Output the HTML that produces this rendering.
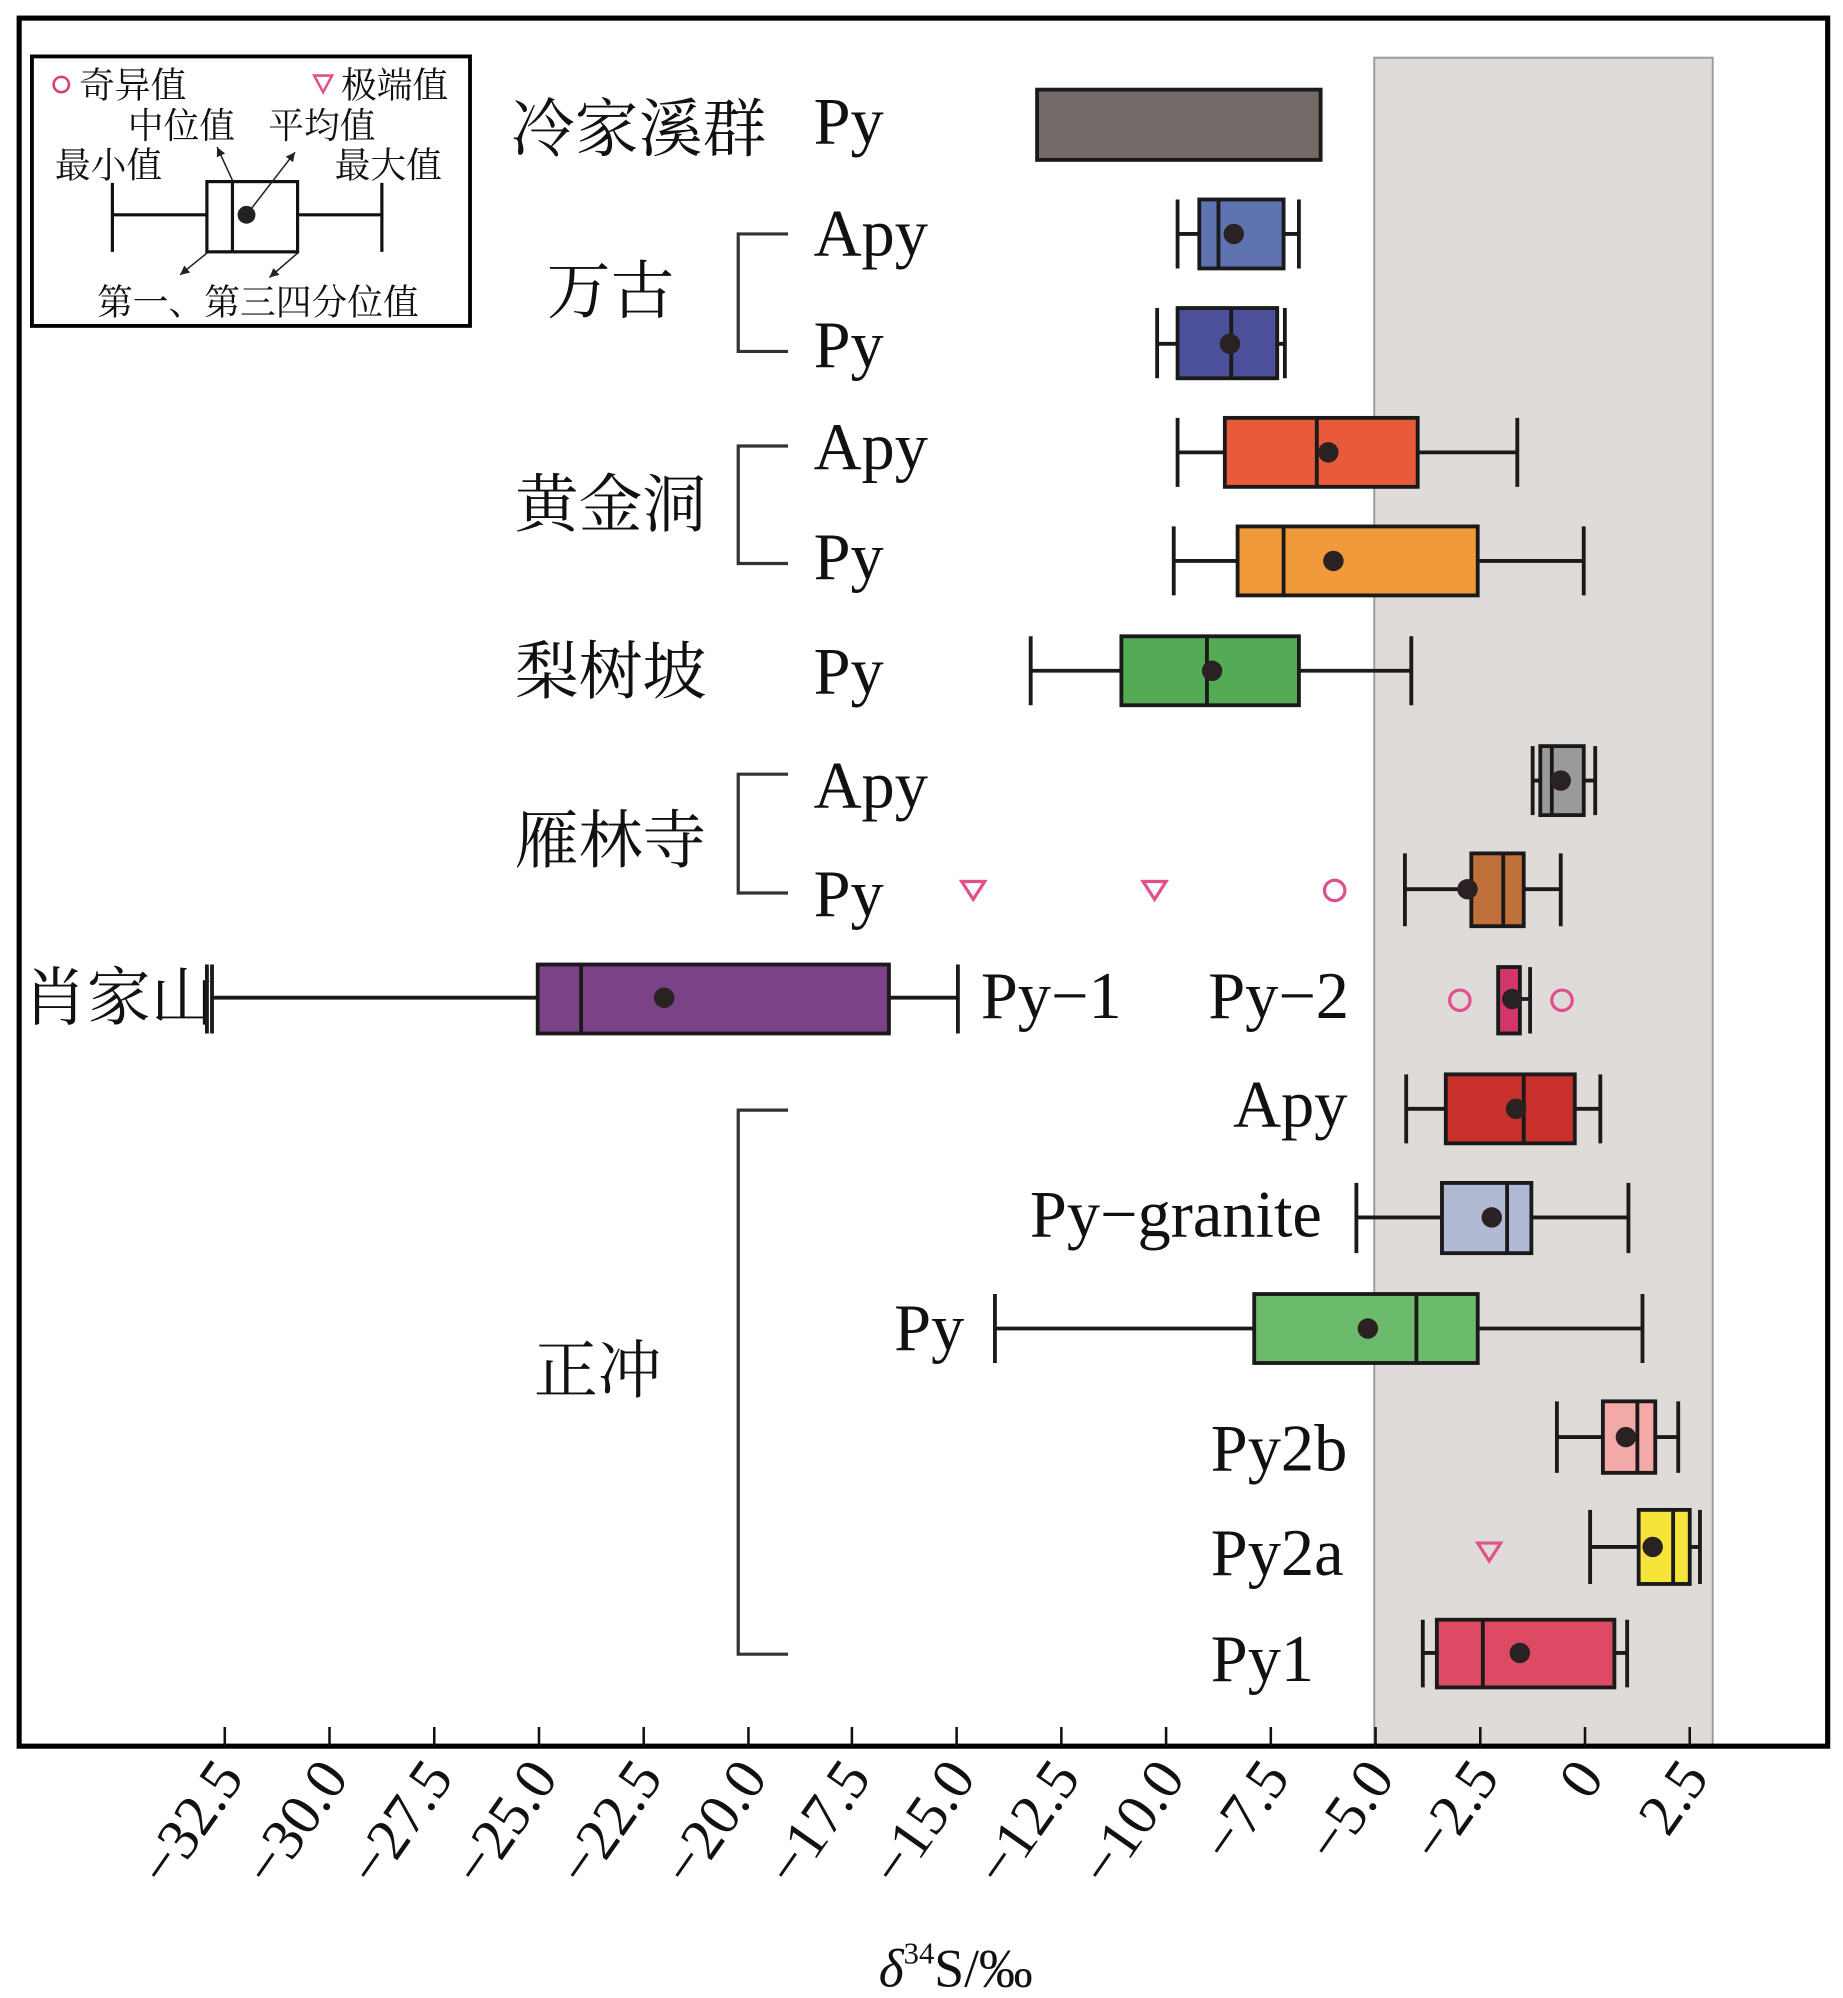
<!DOCTYPE html>
<html><head><meta charset="utf-8"><style>
html,body{margin:0;padding:0;background:#fff;}
svg{display:block;}
text{font-family:"Liberation Serif","Noto Serif CJK SC",serif;fill:#111;}
</style></head><body>
<svg width="1843" height="1998" viewBox="0 0 1443 1564" xmlns="http://www.w3.org/2000/svg">
<defs>
<marker id="ar" markerWidth="8" markerHeight="8" refX="6" refY="3" orient="auto"><path d="M0,0 L6,3 L0,6 z" fill="#222"/></marker>
</defs>
<rect x="1076" y="45" width="265" height="1322" fill="#dfdbd9" stroke="#999" stroke-width="1.5"/>
<rect x="15" y="14" width="1416" height="1353" fill="none" stroke="#000" stroke-width="4"/>
<g stroke="#111" stroke-width="2">
<line x1="176" y1="1352" x2="176" y2="1367"/><line x1="258" y1="1352" x2="258" y2="1367"/><line x1="340" y1="1352" x2="340" y2="1367"/><line x1="422" y1="1352" x2="422" y2="1367"/><line x1="504" y1="1352" x2="504" y2="1367"/><line x1="586" y1="1352" x2="586" y2="1367"/><line x1="667" y1="1352" x2="667" y2="1367"/><line x1="749" y1="1352" x2="749" y2="1367"/><line x1="831" y1="1352" x2="831" y2="1367"/><line x1="913" y1="1352" x2="913" y2="1367"/><line x1="995" y1="1352" x2="995" y2="1367"/><line x1="1077" y1="1352" x2="1077" y2="1367"/><line x1="1159" y1="1352" x2="1159" y2="1367"/><line x1="1241" y1="1352" x2="1241" y2="1367"/><line x1="1323" y1="1352" x2="1323" y2="1367"/>
</g>
<g font-size="46">
<text transform="translate(192,1392) rotate(-55)" text-anchor="end">−32.5</text>
<text transform="translate(274,1392) rotate(-55)" text-anchor="end">−30.0</text>
<text transform="translate(356,1392) rotate(-55)" text-anchor="end">−27.5</text>
<text transform="translate(438,1392) rotate(-55)" text-anchor="end">−25.0</text>
<text transform="translate(520,1392) rotate(-55)" text-anchor="end">−22.5</text>
<text transform="translate(602,1392) rotate(-55)" text-anchor="end">−20.0</text>
<text transform="translate(683,1392) rotate(-55)" text-anchor="end">−17.5</text>
<text transform="translate(765,1392) rotate(-55)" text-anchor="end">−15.0</text>
<text transform="translate(847,1392) rotate(-55)" text-anchor="end">−12.5</text>
<text transform="translate(929,1392) rotate(-55)" text-anchor="end">−10.0</text>
<text transform="translate(1011,1392) rotate(-55)" text-anchor="end">−7.5</text>
<text transform="translate(1093,1392) rotate(-55)" text-anchor="end">−5.0</text>
<text transform="translate(1175,1392) rotate(-55)" text-anchor="end">−2.5</text>
<text transform="translate(1257,1392) rotate(-55)" text-anchor="end">0</text>
<text transform="translate(1339,1392) rotate(-55)" text-anchor="end">2.5</text>
</g>
<text x="688" y="1555" font-size="42"><tspan font-style="italic">δ</tspan><tspan font-size="24" dy="-18">34</tspan><tspan dy="18">S/‰</tspan></text>

<rect x="25" y="44" width="343" height="211" fill="#fff" stroke="#000" stroke-width="3"/>
<circle cx="48" cy="66" r="6" fill="none" stroke="#d84070" stroke-width="2"/>
<text x="62" y="76" font-size="28">奇异值</text>
<path d="M246,59 L260,59 L253,72 z" fill="none" stroke="#e0508a" stroke-width="2"/>
<text x="267" y="76" font-size="28">极端值</text>
<text x="100" y="108" font-size="28">中位值</text>
<text x="210" y="108" font-size="28">平均值</text>
<text x="43" y="139" font-size="28">最小值</text>
<text x="262" y="139" font-size="28">最大值</text>
<g stroke="#111" stroke-width="2.5" fill="none">
<line x1="88" y1="143" x2="88" y2="197"/><line x1="299" y1="143" x2="299" y2="197"/>
<line x1="88" y1="168" x2="162" y2="168"/><line x1="233" y1="168" x2="299" y2="168"/>
<rect x="162" y="142" width="71" height="55"/><line x1="182" y1="142" x2="182" y2="197"/>
</g>
<circle cx="193" cy="168" r="7" fill="#222"/>
<g stroke="#222" stroke-width="1.2" marker-end="url(#ar)">
<line x1="182" y1="141" x2="170" y2="115"/><line x1="193" y1="168" x2="231" y2="119"/>
<line x1="162" y1="198" x2="141" y2="215"/><line x1="233" y1="198" x2="211" y2="217"/>
</g>
<text x="76" y="246" font-size="28">第一、第三四分位值</text>

<g font-size="50">
<text x="400" y="118">冷家溪群</text>
<text x="428" y="245">万古</text>
<text x="403" y="412">黄金洞</text>
<text x="403" y="543">梨树坡</text>
<text x="403" y="675">雁林寺</text>
<text x="18" y="798">肖家山</text>
<text x="418" y="1090">正冲</text>
</g>
<g font-size="52">
<text x="637" y="112">Py</text>
<text x="637" y="200">Apy</text><text x="637" y="287">Py</text>
<text x="637" y="367">Apy</text><text x="637" y="453">Py</text>
<text x="637" y="543">Py</text>
<text x="637" y="632">Apy</text><text x="637" y="717">Py</text>
<text x="768" y="797">Py−1</text><text x="946" y="797">Py−2</text>
<text x="1055" y="882" text-anchor="end">Apy</text>
<text x="1035" y="968" text-anchor="end">Py−granite</text>
<text x="755" y="1057" text-anchor="end">Py</text>
<text x="948" y="1151">Py2b</text>
<text x="948" y="1233">Py2a</text>
<text x="948" y="1316">Py1</text>
</g>
<g stroke="#333" stroke-width="2.5" fill="none">
<path d="M617,183 H578 V275 H617"/>
<path d="M617,349 H578 V441 H617"/>
<path d="M617,606 H578 V699 H617"/>
<path d="M617,869 H578 V1295 H617"/>
</g>

<g stroke="#1a1a1a" stroke-width="3">
<rect x="812" y="70" width="222" height="55" fill="#726a67"/>

<line x1="922" y1="183" x2="1017" y2="183"/><line x1="922" y1="156" x2="922" y2="210"/><line x1="1017" y1="156" x2="1017" y2="210"/>
<rect x="939" y="156" width="66" height="54" fill="#5f73b0"/><line x1="954" y1="156" x2="954" y2="210"/>

<line x1="906" y1="269" x2="1006" y2="269"/><line x1="906" y1="241" x2="906" y2="296"/><line x1="1006" y1="241" x2="1006" y2="296"/>
<rect x="922" y="241" width="78" height="55" fill="#4c4f99"/><line x1="964" y1="241" x2="964" y2="296"/>

<line x1="922" y1="354" x2="1188" y2="354"/><line x1="922" y1="327" x2="922" y2="381"/><line x1="1188" y1="327" x2="1188" y2="381"/>
<rect x="959" y="327" width="151" height="54" fill="#e85a3a"/><line x1="1031" y1="327" x2="1031" y2="381"/>

<line x1="919" y1="439" x2="1240" y2="439"/><line x1="919" y1="412" x2="919" y2="466"/><line x1="1240" y1="412" x2="1240" y2="466"/>
<rect x="969" y="412" width="188" height="54" fill="#f09a3a"/><line x1="1005" y1="412" x2="1005" y2="466"/>

<line x1="807" y1="525" x2="1105" y2="525"/><line x1="807" y1="498" x2="807" y2="552"/><line x1="1105" y1="498" x2="1105" y2="552"/>
<rect x="878" y="498" width="139" height="54" fill="#55aa55"/><line x1="945" y1="498" x2="945" y2="552"/>

<line x1="1200" y1="611" x2="1249" y2="611"/><line x1="1200" y1="584" x2="1200" y2="638"/><line x1="1249" y1="584" x2="1249" y2="638"/>
<rect x="1206" y="584" width="34" height="54" fill="#9a9a9a"/><line x1="1215" y1="584" x2="1215" y2="638"/>

<line x1="1100" y1="696" x2="1222" y2="696"/><line x1="1100" y1="668" x2="1100" y2="725"/><line x1="1222" y1="668" x2="1222" y2="725"/>
<rect x="1152" y="668" width="41" height="57" fill="#c0703a"/><line x1="1177" y1="668" x2="1177" y2="725"/>

<line x1="165" y1="781" x2="750" y2="781"/><line x1="162" y1="755" x2="162" y2="809"/><line x1="166" y1="755" x2="166" y2="809"/><line x1="750" y1="755" x2="750" y2="809"/>
<rect x="421" y="755" width="275" height="54" fill="#7b4287"/><line x1="455" y1="755" x2="455" y2="809"/>

<line x1="1172" y1="782" x2="1198" y2="782"/><line x1="1198" y1="757" x2="1198" y2="809"/>
<rect x="1173" y="757" width="17" height="52" fill="#d2356a"/>

<line x1="1101" y1="868" x2="1253" y2="868"/><line x1="1101" y1="841" x2="1101" y2="895"/><line x1="1253" y1="841" x2="1253" y2="895"/>
<rect x="1132" y="841" width="101" height="54" fill="#c8302c"/><line x1="1193" y1="841" x2="1193" y2="895"/>

<line x1="1062" y1="953" x2="1275" y2="953"/><line x1="1062" y1="926" x2="1062" y2="981"/><line x1="1275" y1="926" x2="1275" y2="981"/>
<rect x="1129" y="926" width="70" height="55" fill="#b0bad2"/><line x1="1180" y1="926" x2="1180" y2="981"/>

<line x1="779" y1="1040" x2="1286" y2="1040"/><line x1="779" y1="1013" x2="779" y2="1067"/><line x1="1286" y1="1013" x2="1286" y2="1067"/>
<rect x="982" y="1013" width="175" height="54" fill="#6cbb6c"/><line x1="1109" y1="1013" x2="1109" y2="1067"/>

<line x1="1219" y1="1125" x2="1314" y2="1125"/><line x1="1219" y1="1097" x2="1219" y2="1153"/><line x1="1314" y1="1097" x2="1314" y2="1153"/>
<rect x="1255" y="1097" width="41" height="56" fill="#f4a9a9"/><line x1="1282" y1="1097" x2="1282" y2="1153"/>

<line x1="1245" y1="1211" x2="1331" y2="1211"/><line x1="1245" y1="1182" x2="1245" y2="1240"/><line x1="1331" y1="1182" x2="1331" y2="1240"/>
<rect x="1283" y="1182" width="40" height="58" fill="#f5e43a"/><line x1="1310" y1="1182" x2="1310" y2="1240"/>

<line x1="1114" y1="1294" x2="1274" y2="1294"/><line x1="1114" y1="1268" x2="1114" y2="1321"/><line x1="1274" y1="1268" x2="1274" y2="1321"/>
<rect x="1125" y="1268" width="139" height="53" fill="#dd4a63"/><line x1="1161" y1="1268" x2="1161" y2="1321"/>
</g>
<g fill="#2a2222">
<circle cx="966" cy="183" r="8"/><circle cx="963" cy="269" r="8"/><circle cx="1040" cy="354" r="8"/><circle cx="1044" cy="439" r="8"/><circle cx="949" cy="525" r="8"/><circle cx="1222" cy="611" r="8"/><circle cx="1149" cy="696" r="8"/><circle cx="520" cy="781" r="8"/><circle cx="1184" cy="782" r="8"/><circle cx="1187" cy="868" r="8"/><circle cx="1168" cy="953" r="8"/><circle cx="1071" cy="1040" r="8"/><circle cx="1273" cy="1125" r="8"/><circle cx="1294" cy="1211" r="8"/><circle cx="1190" cy="1294" r="8"/>
</g>
<g fill="none" stroke="#e0508a" stroke-width="2.5">
<path d="M753,690 L771,690 L762,704 z"/><path d="M895,690 L913,690 L904,704 z"/><path d="M1157,1208 L1175,1208 L1166,1222 z"/>
<circle cx="1045" cy="697" r="8"/><circle cx="1143" cy="783" r="8"/><circle cx="1223" cy="783" r="8"/>
</g>
</svg>
</body></html>
